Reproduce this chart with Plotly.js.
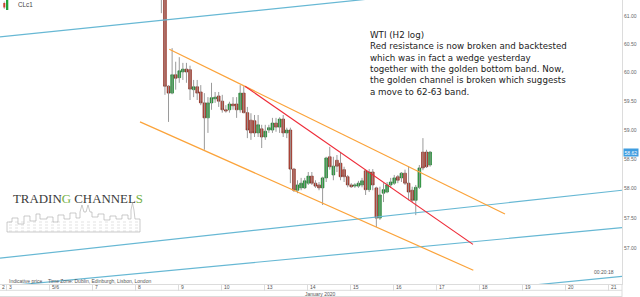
<!DOCTYPE html>
<html><head><meta charset="utf-8">
<script src="https://cdn.plot.ly/plotly-3.0.1.min.js"></script>
<style>html,body{margin:0;padding:0;background:#fff}#chart{width:640px;height:297px}</style>
</head><body><div id="chart"></div>
<script>
// ---- data (WTI CLc1, 2-hour candles, index = 2h slot counted from 3 Jan) ----
const firstCandleIndex = 43;
const candleOpen  = [62.40,62.10,59.76,59.64,59.96,59.91,60.01,60.06,60.05,59.70,59.75,59.66,59.47,59.21,59.47,59.54,59.59,59.50,59.35,59.35,59.45,59.45,59.35,59.64,59.30,59.17,59.16,58.95,59.02,58.88,59.00,59.00,59.12,59.05,59.19,58.95,59.00,58.33,57.97,58.01,58.01,58.09,58.21,58.09,58.06,58.01,58.18,58.54,58.23,58.48,58.43,58.32,58.20,58.06,58.04,58.04,58.06,58.30,57.98,58.28,58.01,57.50,57.92,57.94,58.06,58.09,58.20,58.18,58.26,58.09,57.97,57.80,58.02,58.62,58.62,58.40];
const candleHigh  = [62.90,62.25,59.78,60.43,60.19,60.27,60.17,60.17,60.12,59.87,59.87,59.78,59.64,59.57,59.82,59.66,59.66,59.61,59.43,59.49,59.57,59.57,59.78,59.76,59.40,59.29,59.26,59.26,59.09,59.09,59.09,59.21,59.21,59.22,59.26,59.04,59.04,58.35,58.14,58.18,58.18,58.28,58.28,58.14,58.11,58.20,58.54,58.71,58.54,58.57,58.62,58.37,58.23,58.09,58.09,58.13,58.18,58.32,58.33,58.33,58.03,58.03,58.09,58.11,58.18,58.23,58.23,58.28,58.32,58.37,58.03,58.06,58.40,58.86,58.66,58.64];
const candleLow   = [61.05,59.61,59.14,59.62,59.70,59.82,59.87,59.82,59.52,59.57,59.52,59.43,58.66,58.95,59.35,59.47,59.40,59.30,59.30,59.30,59.35,59.21,59.30,59.29,58.86,58.83,58.88,58.88,58.69,58.83,58.95,58.95,58.97,58.95,58.88,58.86,58.09,57.94,57.92,57.97,57.99,58.06,58.06,58.01,57.97,57.72,58.11,58.32,58.14,58.28,58.14,58.11,58.02,58.01,58.01,58.01,58.02,57.89,57.94,57.97,57.35,57.47,57.77,57.92,58.01,58.06,58.09,58.11,58.06,57.80,57.77,57.55,57.99,58.31,58.35,58.37];
const candleClose = [62.10,59.76,59.64,59.96,59.90,60.03,60.06,60.01,59.71,59.75,59.64,59.47,59.21,59.47,59.56,59.57,59.50,59.35,59.33,59.45,59.42,59.35,59.64,59.30,59.00,58.95,58.95,59.09,58.88,58.98,59.04,59.12,59.05,59.19,58.95,59.00,58.33,57.97,58.06,58.09,58.13,58.21,58.09,58.04,58.01,58.18,58.52,58.37,58.38,58.38,58.20,58.20,58.06,58.03,58.06,58.09,58.13,57.98,58.28,58.06,57.50,57.89,57.98,58.06,58.11,58.18,58.14,58.26,58.09,57.94,57.80,58.02,58.35,58.35,58.37,58.62];
const lastPrice = 58.62;
const priceTicks = [57, 57.5, 58, 58.5, 59, 59.5, 60, 60.5, 61];
const prevDayLabel = "2";
const dayLabels = ["3","5/6","7","8","9","10","13","14","15","16","17","18","19","20","21"];
const monthLabel = "January 2020";
// drawn trend lines: [slot index, price] end points
const blueLine1 = {x:[-2.04,171.56], y:[60.63,61.77]};
const blueLine2 = {x:[-2.04,171.56], y:[56.83,57.97]};
const blueLine3 = {x:[-2.04,171.56], y:[56.36,57.34]};
const blueLine4 = {x:[137.5,171.56], y:[56.33,56.53]};
const goldTop   = {x:[45.21,138.9], y:[60.41,57.57]};
const goldBottom= {x:[37.04,130.06], y:[59.14,56.63]};
const redResist = {x:[66.34,129.97], y:[59.76,57.06]};

const noteText = "WTI (H2 log)<br>Red resistance is now broken and backtested<br>which was in fact a wedge yesterday<br>together with the golden bottom band. Now,<br>the golden channel is broken which suggests<br>a move to 62-63 band.";

// ---- geometry helpers ----
const W = 640, H = 297, mR = 18, mB = 13;
const PW = W - mR, PH = H - mB;
const xRange = [-2.037, 171.56];
const yRangeLog = [1.7512992, 1.7873615];
const px = v => v / PW;              // pixel x -> paper
const py = v => (PH - v) / PH;       // pixel y -> paper

const slots = candleOpen.map((_, k) => firstCandleIndex + k);
const wickX = [], wickY = [];
slots.forEach((s, k) => { wickX.push(s, s, null); wickY.push(candleLow[k], candleHigh[k], null); });
const bodyTop = candleOpen.map((o, k) => Math.max(o, candleClose[k]));
const bodyBot = candleOpen.map((o, k) => Math.min(o, candleClose[k]));

const BLUE = '#67b8d4', GOLD = '#fba33a', RED = '#ee2b38';
const lineTrace = (d, c) => ({type:'scatter', mode:'lines', x:d.x, y:d.y, line:{color:c, width:1.2}, hoverinfo:'skip'});

const traces = [
  {type:'scatter', mode:'lines', x:wickX, y:wickY, line:{color:'#9a9a9a', width:1}, hoverinfo:'skip'},
  {type:'candlestick', x:slots, open:candleOpen, close:candleClose, high:bodyTop, low:bodyBot,
   increasing:{fillcolor:'#22a238', line:{color:'#177a29', width:0.7}},
   decreasing:{fillcolor:'#c8402f', line:{color:'#7e2418', width:0.7}}, hoverinfo:'skip'},
  lineTrace(blueLine1, BLUE), lineTrace(blueLine2, BLUE), lineTrace(blueLine3, BLUE), lineTrace(blueLine4, BLUE),
  lineTrace(goldTop, GOLD), lineTrace(goldBottom, GOLD), lineTrace(redResist, RED)
];

// day boundaries: 12 two-hour slots per trading day
const dayStart = dayLabels.map((_, d) => 12 * d - 0.25);

const small = {family:'Liberation Sans, Arial, sans-serif', size:5, color:'#555'};
const annotations = [
  {xref:'paper', yref:'paper', x:px(17), y:py(5), xanchor:'left', yanchor:'middle', text:'CLc1', showarrow:false,
   font:{family:'Liberation Sans, Arial, sans-serif', size:6.3, color:'#444'}, borderpad:0},
  {xref:'paper', yref:'paper', x:px(369), y:py(29), xanchor:'left', yanchor:'top', align:'left', text:noteText, showarrow:false,
   font:{family:'DejaVu Sans, sans-serif', size:8.7, color:'#222'}, borderpad:0},
  {xref:'paper', yref:'paper', x:px(12), y:py(199), xanchor:'left', yanchor:'middle', showarrow:false, borderpad:0,
   text:'TRADIN<span style="color:#74b043">G</span> CHANNEL<span style="color:#74b043">S</span>',
   font:{family:'Liberation Serif, Times New Roman, serif', size:12.9, color:'#3a3a3a'}},
  {xref:'paper', yref:'paper', x:px(8), y:py(280.5), xanchor:'left', yanchor:'middle', text:'Indicative price', showarrow:false, font:small, borderpad:0},
  {xref:'paper', yref:'paper', x:px(47), y:py(280.5), xanchor:'left', yanchor:'middle', text:'Time Zone: Dublin, Edinburgh, Lisbon, London', showarrow:false, font:small, borderpad:0},
  {xref:'paper', yref:'paper', x:px(615), y:py(272), xanchor:'right', yanchor:'middle', text:'00:20:18', showarrow:false, font:small, borderpad:0},
  {xref:'paper', yref:'paper', x:px(320), y:py(293.8), xanchor:'center', yanchor:'middle', text:monthLabel, showarrow:false, font:small, borderpad:0},
  {xref:'x', yref:'paper', x:xRange[0], xshift:1, y:py(287.3), xanchor:'left', yanchor:'middle', text:prevDayLabel, showarrow:false, font:small, borderpad:0},
  {xref:'paper', yref:'y', x:1, xshift:0.5, y:Math.log10(lastPrice), xanchor:'left', yanchor:'middle', text:lastPrice.toFixed(2), showarrow:false,
   bgcolor:'#3f9de0', borderpad:0.6, font:{family:'Liberation Sans, Arial, sans-serif', size:5, color:'#fff'}}
];
dayLabels.forEach((lab, d) => annotations.push({xref:'x', yref:'paper', x:dayStart[d], xshift:1.6, y:py(287.3),
  xanchor:'left', yanchor:'middle', text:lab, showarrow:false, font:small, borderpad:0}));

// Trading Channels skyline sketch (decoration)
const sky = [[7,232],[7,222],[12,222],[12,218],[18,218],[18,224],[24,224],[24,216],[30,216],[30,221],[36,221],[36,214],[40,214],[40,219],[47,219],[47,217],[53,217],[53,222],[58,222],[58,215],[64,215],[64,219],[70,219],[70,213],[76,213],[76,218],[80,218],[80,212],[82,205],[84,212],[86,212],[88,205],[90,212],[92,212],[92,217],[98,217],[98,214],[104,214],[104,220],[110,220],[110,216],[116,216],[116,219],[122,219],[122,215],[128,215],[128,219],[131,219],[131,210],[132.5,203],[134,210],[135,219],[140,219],[140,232],[7,232]];
const skyPath = sky.map((p, i) => (i ? 'L' : 'M') + px(p[0]).toFixed(4) + ',' + py(p[1]).toFixed(4)).join(' ');
let hatch = '';
[222, 225, 228, 231].forEach(yy => { hatch += ' M' + px(9).toFixed(4) + ',' + py(yy).toFixed(4) + ' L' + px(138).toFixed(4) + ',' + py(yy).toFixed(4); });

const shapes = [
  {type:'path', xref:'paper', yref:'paper', path:skyPath, line:{color:'#a8a8a8', width:0.6}},
  {type:'path', xref:'paper', yref:'paper', path:hatch, line:{color:'#c4c4c4', width:0.5, dash:'dot'}},
  {type:'line', xref:'paper', yref:'paper', x0:0, x1:1, y0:py(290.3), y1:py(290.3), line:{color:'#dcdcdc', width:1}},
  {type:'line', xref:'paper', yref:'paper', x0:0, x1:1, y0:py(296.5), y1:py(296.5), line:{color:'#dcdcdc', width:1}},
  {type:'line', xref:'paper', yref:'paper', x0:1, x1:1, y0:0, y1:py(297), line:{color:'#dcdcdc', width:1}},
  // CLc1 candle icon
  {type:'line', xref:'paper', yref:'paper', x0:px(4.3), x1:px(4.3), y0:py(1.5), y1:py(9), line:{color:'#888', width:0.6}},
  {type:'rect', xref:'paper', yref:'paper', x0:px(3.3), x1:px(5.3), y0:py(3), y1:py(7.5), fillcolor:'#c8402f', line:{width:0}},
  {type:'rect', xref:'paper', yref:'paper', x0:px(6), x1:px(8.3), y0:py(0), y1:py(10), fillcolor:'#22a238', line:{width:0}}
];

const layout = {
  width:W, height:H, margin:{l:0, r:mR, t:0, b:mB, pad:0},
  paper_bgcolor:'#fff', plot_bgcolor:'#fff', showlegend:false, hovermode:false,
  boxgap:0.25, boxgroupgap:0,
  font:{family:'Liberation Sans, Arial, sans-serif'},
  xaxis:{type:'linear', range:xRange, showgrid:false, zeroline:false, showticklabels:false,
         tickmode:'array', tickvals:dayStart, ticks:'outside', ticklen:6, tickwidth:1, tickcolor:'#dcdcdc',
         showline:true, linecolor:'#dcdcdc', linewidth:1, rangeslider:{visible:false}, fixedrange:true},
  yaxis:{type:'log', side:'right', range:yRangeLog, showgrid:false, zeroline:false,
         tickmode:'array', tickvals:priceTicks, ticktext:priceTicks.map(v => v.toFixed(2)),
         ticks:'', tickfont:{family:'Liberation Sans, Arial, sans-serif', size:5, color:'#666'},
         showline:true, linecolor:'#dcdcdc', linewidth:1, fixedrange:true},
  annotations:annotations, shapes:shapes
};

Plotly.newPlot('chart', traces, layout, {staticPlot:true, displayModeBar:false});
</script></body></html>
